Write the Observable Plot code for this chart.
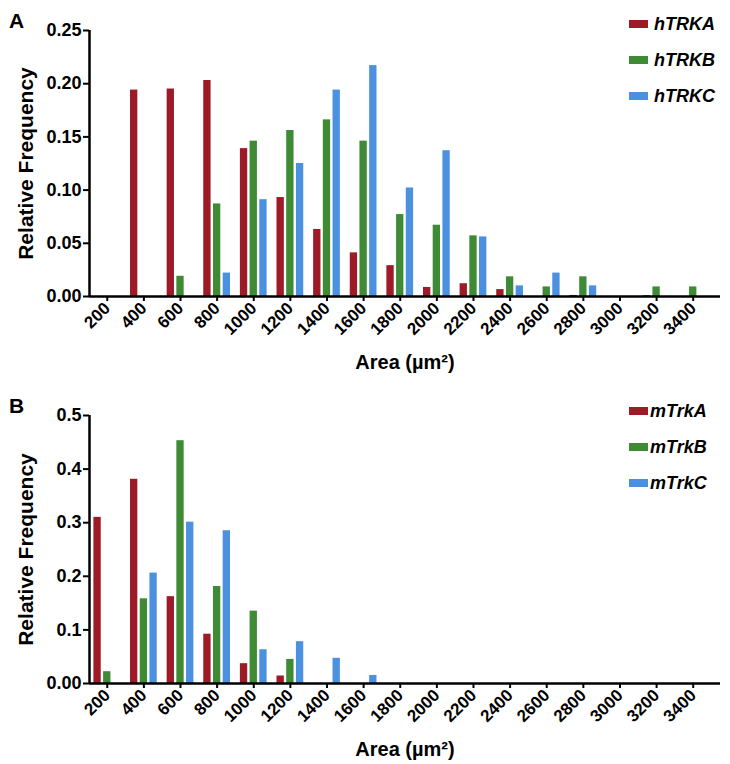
<!DOCTYPE html>
<html>
<head>
<meta charset="utf-8">
<script src="https://cdn.jsdelivr.net/npm/d3@7"></script>
<script src="https://cdn.jsdelivr.net/npm/@observablehq/plot@0.6"></script>
<style>
  html, body { margin: 0; padding: 0; background: #fff; }
  #wrap { position: relative; width: 730px; height: 764px; font-family: "Liberation Sans", Arial, sans-serif; color: #000; }
  .panel { position: absolute; top: 0; left: 0; }
  .tag { position: absolute; font-weight: bold; font-size: 21px; line-height: 1; }
  .legend { position: absolute; font-weight: bold; font-style: italic; font-size: 18px; }
  .legend .row { position: absolute; left: 0; display: flex; align-items: center; height: 20px; white-space: nowrap; }
  .legend .sw { width: 19px; height: 8px; display: inline-block; }
  g[aria-label="y-axis label"] text { font-size: 21px !important; }
  g[aria-label="x-axis label"] text { font-size: 20px !important; }
  g[aria-label="y-axis tick label"] text { font-size: 18px !important; }
  g[aria-label="x-axis tick label"] text { font-size: 17px !important; }
  g[aria-label="y-axis tick"], g[aria-label="x-axis tick"] { stroke-width: 2px; }
</style>
</head>
<body>
<div id="wrap">
  <div id="pa" class="panel"></div>
  <div id="pb" class="panel" style="top:380px"></div>
</div>
<script>
// ---- data ----
const bins = [200, 400, 600, 800, 1000, 1200, 1400, 1600, 1800, 2000, 2200, 2400, 2600, 2800, 3000, 3200, 3400];

const humanSeries = ["hTRKA", "hTRKB", "hTRKC"];
const hTRKA = [0, 0.194, 0.195, 0.203, 0.139, 0.093, 0.063, 0.041, 0.029, 0.0085, 0.012, 0.0065, 0, 0.001, 0, 0.0008, 0];
const hTRKB = [0, 0, 0.019, 0.087, 0.146, 0.156, 0.166, 0.146, 0.077, 0.067, 0.057, 0.0185, 0.009, 0.0185, 0, 0.009, 0.009];
const hTRKC = [0, 0, 0, 0.022, 0.091, 0.125, 0.194, 0.217, 0.102, 0.137, 0.056, 0.010, 0.022, 0.010, 0, 0, 0];

const mouseSeries = ["mTrkA", "mTrkB", "mTrkC"];
const mTrkA = [0.310, 0.381, 0.162, 0.092, 0.037, 0.014, 0, 0, 0, 0, 0, 0, 0, 0, 0, 0, 0];
const mTrkB = [0.022, 0.158, 0.453, 0.181, 0.135, 0.045, 0, 0, 0, 0, 0, 0, 0, 0, 0, 0, 0];
const mTrkC = [0, 0.206, 0.301, 0.285, 0.063, 0.078, 0.047, 0.015, 0, 0, 0, 0, 0, 0, 0, 0, 0];

const seriesColors = ["#9c1b26", "#3f8a35", "#4b91e0"];
const yTicksA = [0, 0.05, 0.10, 0.15, 0.20, 0.25];
const yTicksB = [0, 0.1, 0.2, 0.3, 0.4, 0.5];

// ---- build ----
const xDomain = [103, 3549];
const groupOffset = 53;   // data units between bars in a group
const halfBar = 20;

function rows(names, arrays) {
  const out = [];
  names.forEach((name, i) => arrays[i].forEach((v, j) => { if (v > 0) out.push({bin: bins[j], series: name, i, v}); }));
  return out;
}

function panel({data, names, yDomain, yTicks, yFormat, height, marginTop, marginBottom}) {
  return Plot.plot({
    width: 730, height, marginLeft: 89, marginRight: 10, marginTop, marginBottom,
    style: {fontFamily: "'Liberation Sans', Arial, sans-serif", fontWeight: "bold", color: "#000", background: "#fff", overflow: "visible"},
    x: {domain: xDomain},
    y: {domain: yDomain},
    color: {domain: names, range: seriesColors},
    marks: [
      Plot.rectY(data, {
        x1: d => d.bin + (d.i - 1) * groupOffset - halfBar,
        x2: d => d.bin + (d.i - 1) * groupOffset + halfBar,
        y: "v", fill: "series"
      }),
      Plot.axisX({ticks: bins, tickFormat: d => String(d), tickRotate: -45, tickSize: 5, tickPadding: 4,
        fontSize: 17, strokeWidth: 2, label: "Area (µm²)", labelAnchor: "center", labelOffset: 72, labelArrow: "none"}),
      Plot.axisY({ticks: yTicks, tickFormat: yFormat, tickSize: 6, tickPadding: 2, fontSize: 18, strokeWidth: 2,
        label: "Relative Frequency", labelAnchor: "center", labelOffset: 71, labelArrow: "none"}),
      Plot.ruleY([0], {strokeWidth: 2.5}),
      Plot.ruleX([xDomain[0]], {strokeWidth: 2.5})
    ]
  });
}

document.getElementById("pa").append(panel({
  data: rows(humanSeries, [hTRKA, hTRKB, hTRKC]), names: humanSeries,
  yDomain: [0, 0.25], yTicks: yTicksA, yFormat: d => d.toFixed(2),
  height: 380, marginTop: 30, marginBottom: 84
}));
document.getElementById("pb").append(panel({
  data: rows(mouseSeries, [mTrkA, mTrkB, mTrkC]), names: mouseSeries,
  yDomain: [0, 0.5], yTicks: yTicksB, yFormat: d => d === 0 ? "0.00" : d.toFixed(1),
  height: 384, marginTop: 35, marginBottom: 81
}));

// ---- panel tags and legends ----
const wrap = document.getElementById("wrap");
function tag(text, left, top) {
  const el = document.createElement("div");
  el.className = "tag"; el.textContent = text;
  el.style.left = left + "px"; el.style.top = top + "px";
  wrap.append(el);
}
tag("A", 9, 10);
tag("B", 9, 395);

function legend(names, left, top, gap) {
  const box = document.createElement("div");
  box.className = "legend";
  box.style.left = left + "px"; box.style.top = top + "px";
  names.forEach((n, i) => {
    const r = document.createElement("div");
    r.className = "row"; r.style.top = (i * 36) + "px";
    const sw = document.createElement("span");
    sw.className = "sw"; sw.style.background = seriesColors[i]; sw.style.marginRight = gap + "px";
    const t = document.createElement("span"); t.textContent = n;
    r.append(sw, t); box.append(r);
  });
  wrap.append(box);
}
legend(humanSeries, 629, 14, 6);
legend(mouseSeries, 629, 401, 2);
</script>
</body>
</html>
